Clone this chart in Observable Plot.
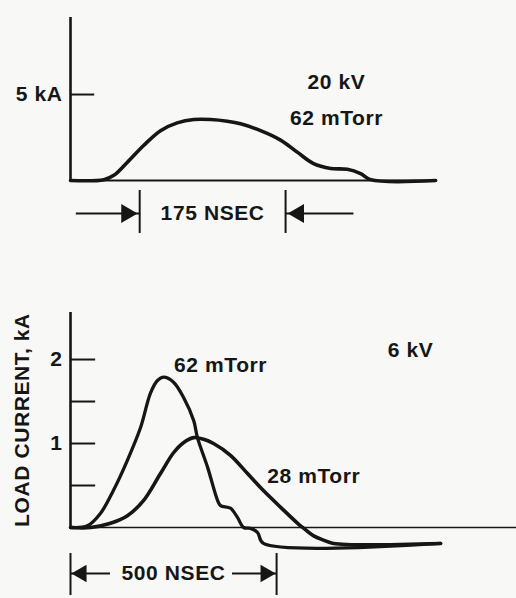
<!DOCTYPE html>
<html><head><meta charset="utf-8">
<script src="https://cdn.jsdelivr.net/npm/d3@7"></script>
<script src="https://cdn.jsdelivr.net/npm/@observablehq/plot@0.6"></script>
<style>
html,body{margin:0;padding:0;background:#f8f8f6;}
#chart{width:516px;height:598px;overflow:hidden;}
#chart svg{display:block;}
</style></head><body><div id="chart"></div>
<script>
// ---- Top panel: 20 kV, 62 mTorr (time in ns, current in kA)
const topTime    = [0, 40, 52, 68, 88, 108, 128, 148, 168, 188, 204, 228, 252, 272, 291, 312, 332, 348, 360, 438];
const topCurrent = [0, 0.05, 0.3, 1.05, 2.05, 2.9, 3.35, 3.55, 3.55, 3.45, 3.3, 2.9, 2.35, 1.65, 1.0, 0.7, 0.65, 0.4, 0.05, 0];
const topTicks = [5];
const topSpan = [83, 258];
const topSpanLabel = "175 NSEC";
const topLabels = [{t: 319, i: 5.7, text: "20 kV"}, {t: 319, i: 3.6, text: "62 mTorr"}];

// ---- Bottom panel: 6 kV
const time62    = [0, 41, 73, 104, 138, 170, 194, 211, 226, 250, 274, 299, 308, 333, 357, 364, 388, 405, 420, 437, 454, 468, 898];
const current62 = [0, 0.02, 0.17, 0.44, 0.80, 1.19, 1.60, 1.75, 1.79, 1.73, 1.55, 1.27, 1.07, 0.71, 0.32, 0.26, 0.23, 0.12, 0, -0.01, -0.06, -0.19, -0.19];
const time28    = [0, 49, 97, 138, 177, 218, 250, 274, 299, 323, 347, 388, 430, 468, 510, 551, 566, 590, 614, 638, 898];
const current28 = [0, 0, 0.05, 0.14, 0.32, 0.64, 0.89, 1.01, 1.07, 1.05, 1.0, 0.86, 0.64, 0.44, 0.24, 0.05, -0.01, -0.10, -0.15, -0.19, -0.19];
const bottomTicks = [0.5, 1, 1.5, 2];
const bottomTickLabels = [1, 2];
const bottomSpan = [0, 500];
const bottomSpanLabel = "500 NSEC";
const bottomLabels = [
  {t: 364, i: 1.93, text: "62 mTorr"},
  {t: 590, i: 0.61, text: "28 mTorr"},
  {t: 825, i: 2.11, text: "6 kV"}
];
const yLabel = "LOAD CURRENT, kA";

const INK = "#161616";
const FS = 21;
const FONT = "'Liberation Sans', Arial, Helvetica, sans-serif";
const svgStyle = {background: "transparent", color: INK, fontFamily: FONT, letterSpacing: "0.6px", fontWeight: "bold", overflow: "visible"};

const topData = topTime.map((t, k) => ({t, i: topCurrent[k]}));
const d62 = time62.map((t, k) => ({t, i: current62[k]}));
const d28 = time28.map((t, k) => ({t, i: current28[k]}));

const topPlot = Plot.plot({
  width: 516, height: 250,
  marginLeft: 70, marginRight: 0, marginTop: 17, marginBottom: 70,
  style: svgStyle,
  x: {domain: [0, 535], axis: null},
  y: {domain: [0, 9.48], axis: null},
  marks: [
    Plot.ruleY([0], {x1: 0, x2: 438, stroke: INK, strokeWidth: 2.2}),
    Plot.ruleX([0], {stroke: INK, strokeWidth: 2.6}),
    Plot.ruleY(topTicks, {x1: 0, x2: 29, stroke: INK, strokeWidth: 2}),
    Plot.axisY({ticks: topTicks, tickSize: 0, tickPadding: 8, tickFormat: d => `${d} kA`, fontSize: FS, label: null}),
    Plot.line(topData, {x: "t", y: "i", stroke: INK, strokeWidth: 3.6, curve: "catmull-rom"}),
    Plot.text(topLabels, {x: "t", y: "i", text: "text", fontSize: FS}),
    // span annotation
    Plot.ruleX(topSpan, {y1: -0.58, y2: -3.08, stroke: INK, strokeWidth: 2}),
    Plot.ruleY([topSpan[0]], {x1: d => d - 76, x2: d => d, y: -1.92, stroke: INK, strokeWidth: 2}),
    Plot.ruleY([topSpan[1]], {x1: d => d, x2: d => d + 82, y: -1.92, stroke: INK, strokeWidth: 2}),
    Plot.dot([topSpan[0]], {x: d => d, y: -1.92, symbol: "triangle", r: 7, rotate: 90, dx: -13, fill: INK, stroke: "none"}),
    Plot.dot([topSpan[1]], {x: d => d, y: -1.92, symbol: "triangle", r: 7, rotate: -90, dx: 13, fill: INK, stroke: "none"}),
    Plot.text([topSpanLabel], {x: (topSpan[0] + topSpan[1]) / 2, y: -1.92, text: d => d, fontSize: FS})
  ]
});

const bottomPlot = Plot.plot({
  width: 516, height: 348,
  marginLeft: 70, marginRight: 0, marginTop: 62, marginBottom: 71,
  style: svgStyle,
  x: {domain: [0, 1082], axis: null},
  y: {domain: [0, 2.56], axis: null},
  marks: [
    Plot.ruleY([0], {stroke: INK, strokeWidth: 1.6}),
    Plot.ruleX([0], {stroke: INK, strokeWidth: 2.6}),
    Plot.ruleY(bottomTicks, {x1: 0, x2: 61, stroke: INK, strokeWidth: 2}),
    Plot.axisY({ticks: bottomTickLabels, tickSize: 0, tickPadding: 8, tickFormat: d => String(d), fontSize: FS, label: null}),
    Plot.text([yLabel], {text: d => d, frameAnchor: "left", textAnchor: "middle", dx: -48, rotate: -90, fontSize: FS}),
    Plot.line(d28, {x: "t", y: "i", stroke: INK, strokeWidth: 3.6, curve: "catmull-rom"}),
    Plot.line(d62, {x: "t", y: "i", stroke: INK, strokeWidth: 3.3, curve: "catmull-rom"}),
    Plot.text(bottomLabels, {x: "t", y: "i", text: "text", fontSize: FS}),
    // span annotation
    Plot.ruleX(bottomSpan, {y1: -0.31, y2: -0.81, stroke: INK, strokeWidth: 2}),
    Plot.ruleY([bottomSpan[0]], {x1: d => d, x2: d => d + 97, y: -0.548, stroke: INK, strokeWidth: 2}),
    Plot.ruleY([bottomSpan[1]], {x1: d => d - 107, x2: d => d, y: -0.548, stroke: INK, strokeWidth: 2}),
    Plot.dot([bottomSpan[0]], {x: d => d, y: -0.548, symbol: "triangle", r: 6.5, rotate: -90, dx: 11, fill: INK, stroke: "none"}),
    Plot.dot([bottomSpan[1]], {x: d => d, y: -0.548, symbol: "triangle", r: 6.5, rotate: 90, dx: -11, fill: INK, stroke: "none"}),
    Plot.text([bottomSpanLabel], {x: (bottomSpan[0] + bottomSpan[1]) / 2, y: -0.548, text: d => d, fontSize: FS, fill: INK})
  ]
});

const chart = document.getElementById("chart");
chart.appendChild(topPlot);
chart.appendChild(bottomPlot);
</script>
</body></html>
